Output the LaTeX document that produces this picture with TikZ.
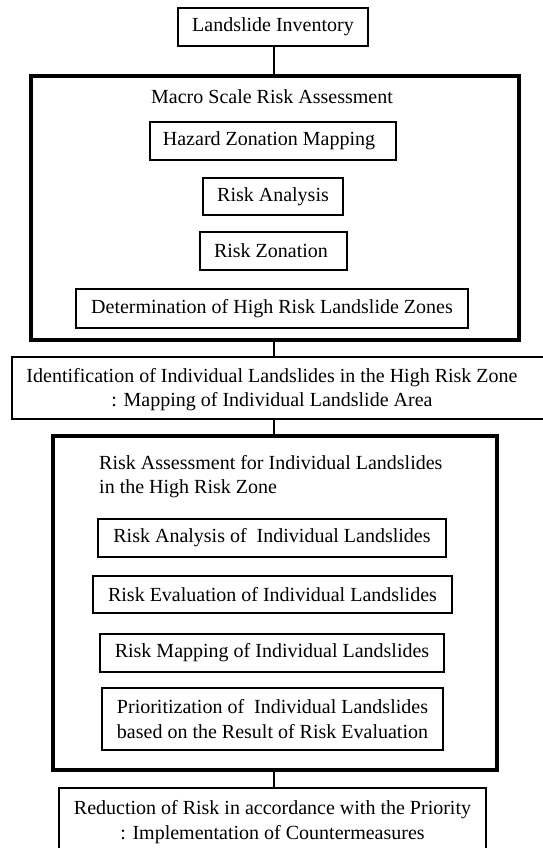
\documentclass[tikz,border=0pt]{standalone}
\usepackage{fontspec}
\setmainfont{Liberation Serif}
\newcommand\dfont{\fontsize{20}{24.5}\selectfont}
\begin{document}
\begin{tikzpicture}[x=1pt,y=-1pt,
  box/.style={draw, line width=1.1pt, inner sep=0pt, align=center, font=\dfont},
  frame/.style={draw, line width=4pt, inner sep=0pt},
  txt/.style={inner sep=0pt, font=\dfont},
  conn/.style={line width=1.1pt}]
\useasboundingbox (0,0) rectangle (542,848);

\node[box, minimum width=190pt, minimum height=38pt] (inv) at (273,27) {Landslide Inventory};

\node[frame, minimum width=488pt, minimum height=264pt] (macro) at (275,208) {};
\node[txt] (macrot) at (272,97) {Macro Scale Risk Assessment};
\node[box, minimum width=246pt, minimum height=38pt] (haz) at (273,141) {Hazard Zonation Mapping\hspace*{8pt}};
\node[box, minimum width=140pt, minimum height=37pt] (ra) at (273,196.5) {Risk Analysis};
\node[box, minimum width=147pt, minimum height=38pt] (rz) at (273.5,251) {Risk Zonation\hspace*{5pt}};
\node[box, minimum width=392pt, minimum height=39pt] (det) at (272,308.5) {Determination of High Risk Landslide Zones};

\node[box, minimum width=540pt, minimum height=62pt] (ident) at (282,388) {};
\node[txt, align=center] (identt) at (272,389.5) {Identification of Individual Landslides in the High Risk Zone\\: Mapping of Individual Landslide Area};

\node[frame, minimum width=444pt, minimum height=334pt] (ind) at (275,603) {};
\node[txt, align=left, anchor=west] (indt) at (99,476.5) {Risk Assessment for Individual Landslides\\in the High Risk Zone};
\node[box, minimum width=348pt, minimum height=38pt] (raind) at (272,538) {Risk Analysis of~ Individual Landslides};
\node[box, minimum width=359pt, minimum height=37pt] (reind) at (272.5,594.5) {Risk Evaluation of Individual Landslides};
\node[box, minimum width=344pt, minimum height=38pt] (rmind) at (272,653) {Risk Mapping of Individual Landslides};
\node[box, minimum width=341pt, minimum height=62pt] (prio) at (272.5,719) {Prioritization of~ Individual Landslides\\based on the Result of Risk Evaluation};

\node[box, minimum width=427pt, minimum height=68pt] (red) at (272.5,822) {Reduction of Risk in accordance with the Priority\\: Implementation of Countermeasures};

\coordinate (cx) at (274,0);
\draw[conn] (cx |- inv.south) -- (cx |- macro.north);
\draw[conn] (cx |- macro.south) -- (cx |- ident.north);
\draw[conn] (cx |- ident.south) -- (cx |- ind.north);
\draw[conn] (cx |- ind.south) -- (cx |- red.north);
\end{tikzpicture}
\end{document}
